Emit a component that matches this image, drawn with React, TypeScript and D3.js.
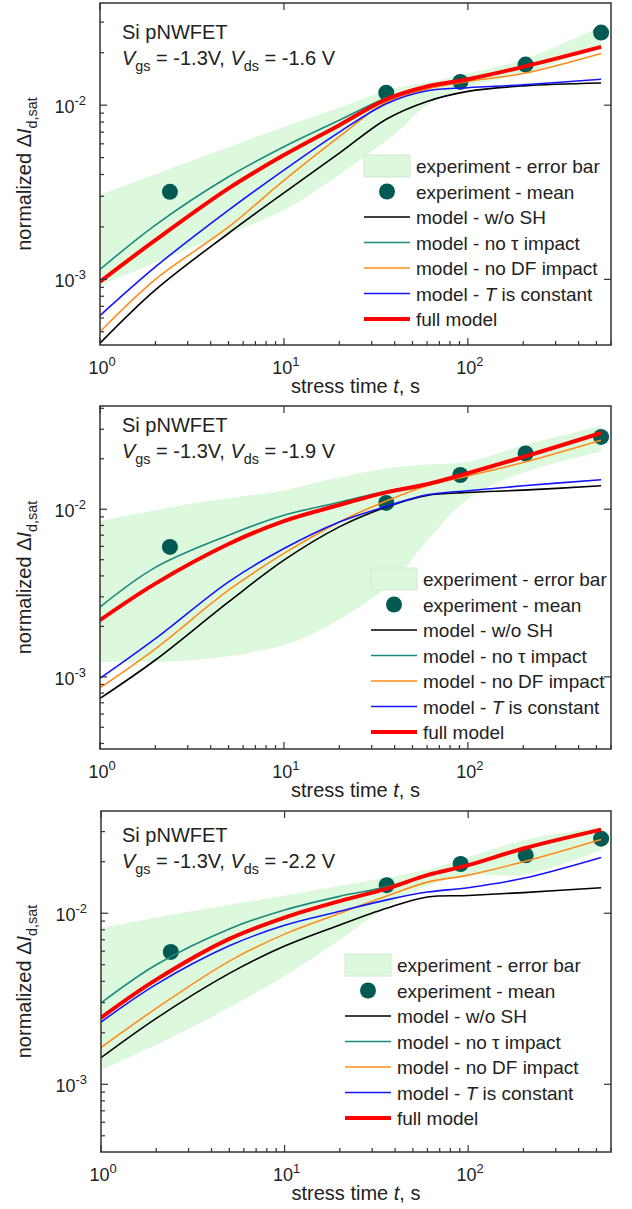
import React, { useEffect, useRef } from 'react';
import * as d3 from 'd3';

// stress times (s)
const modelTimes = [1, 2, 5, 10, 20, 36, 60, 100, 200, 530];
const bandTimes = [1, 3, 10, 20, 40, 60, 100, 200, 530];
const expTimes = [2.4, 36, 91, 206, 530];

// Vds = -1.6 V
const p1Mean = [3.18e-3, 0.0118, 0.0136, 0.0171, 0.0261];
const p1BandLow = [9.2e-4, 1.49e-3, 2.5e-3, 4.0e-3, 6.8e-3, 0.0100, 0.0127, 0.0152, 0.0216];
const p1BandHigh = [3.05e-3, 4.7e-3, 7.5e-3, 9.7e-3, 0.0125, 0.0135, 0.0152, 0.0183, 0.0283];
const p1NoSH = [4.3e-4, 8.7e-4, 1.84e-3, 3.14e-3, 5.3e-3, 8.3e-3, 0.0105, 0.0120, 0.0129, 0.0134];
const p1NoTau = [1.14e-3, 2.05e-3, 3.88e-3, 5.77e-3, 8.2e-3, 0.0110, 0.0129, 0.0142, 0.0167, 0.0217];
const p1NoDF = [5.0e-4, 1.0e-3, 2.0e-3, 3.7e-3, 6.6e-3, 0.0104, 0.0124, 0.0137, 0.0152, 0.0198];
const p1ConstT = [6.2e-4, 1.18e-3, 2.5e-3, 4.24e-3, 7.0e-3, 0.0102, 0.0121, 0.0126, 0.0131, 0.0141];
const p1Full = [9.7e-4, 1.68e-3, 3.33e-3, 5.17e-3, 7.68e-3, 0.0108, 0.0128, 0.0141, 0.0166, 0.0216];

// Vds = -1.9 V
const p2Mean = [5.96e-3, 0.0109, 0.0160, 0.0215, 0.0270];
const p2BandLow = [1.23e-3, 1.25e-3, 1.55e-3, 2.2e-3, 3.8e-3, 6.5e-3, 0.0115, 0.0165, 0.0220];
const p2BandHigh = [8.5e-3, 0.0107, 0.0130, 0.0155, 0.0178, 0.0185, 0.0192, 0.0240, 0.0315];
const p2NoSH = [7.43e-4, 1.26e-3, 2.8e-3, 4.97e-3, 7.85e-3, 0.0103, 0.0121, 0.0126, 0.0130, 0.0138];
const p2NoTau = [2.61e-3, 4.5e-3, 7.0e-3, 9.2e-3, 0.0110, 0.0128, 0.0142, 0.0165, 0.0206, 0.0286];
const p2NoDF = [8.6e-4, 1.47e-3, 3.29e-3, 5.45e-3, 8.4e-3, 0.0112, 0.0138, 0.0158, 0.0190, 0.0258];
const p2ConstT = [9.8e-4, 1.69e-3, 3.69e-3, 5.83e-3, 8.4e-3, 0.0104, 0.0122, 0.0129, 0.0138, 0.0150];
const p2Full = [2.18e-3, 3.6e-3, 6.2e-3, 8.5e-3, 0.0106, 0.0126, 0.0141, 0.0164, 0.0205, 0.0285];

// Vds = -2.2 V
const p3Mean = [5.94e-3, 0.0146, 0.0194, 0.0218, 0.0273];
const p3BandLow = [1.21e-3, 2.1e-3, 4.3e-3, 7.0e-3, 0.0118, 0.0145, 0.0167, 0.0168, 0.0233];
const p3BandHigh = [8.2e-3, 0.0102, 0.0127, 0.0145, 0.0165, 0.0180, 0.0213, 0.0267, 0.0320];
const p3NoSH = [1.43e-3, 2.43e-3, 4.45e-3, 6.43e-3, 8.55e-3, 0.0107, 0.01245, 0.0127, 0.0132, 0.0141];
const p3NoTau = [2.99e-3, 5.0e-3, 8.1e-3, 0.01045, 0.01256, 0.01426, 0.0168, 0.0192, 0.0240, 0.0309];
const p3NoDF = [1.64e-3, 2.78e-3, 5.25e-3, 7.55e-3, 0.0100, 0.0126, 0.0152, 0.0167, 0.0200, 0.0270];
const p3ConstT = [2.31e-3, 3.84e-3, 6.45e-3, 8.5e-3, 0.01026, 0.01197, 0.0133, 0.0141, 0.0160, 0.0212];
const p3Full = [2.45e-3, 4.09e-3, 7.08e-3, 9.44e-3, 0.01178, 0.01393, 0.0167, 0.0191, 0.0239, 0.0308];

const xMajor = [1, 10, 100];
const xTickLabels = ['0', '1', '2'];
const yMajor = [1e-3, 1e-2];
const yTickLabels = ['-3', '-2'];
const vdsLabels = ['-1.6', '-1.9', '-2.2'];

const FONT = '"Liberation Sans", Arial, sans-serif';
const BAND = '#ddf9dd';
const MEAN = '#035a52';

const models = [
  { name: 'noSH', label: [{ t: 'model - w/o SH' }], color: '#000000', width: 1.6 },
  { name: 'noTau', label: [{ t: 'model - no τ impact' }], color: '#1b8a7c', width: 1.6 },
  { name: 'noDF', label: [{ t: 'model - no DF impact' }], color: '#ff8c1a', width: 1.6 },
  { name: 'constT', label: [{ t: 'model - ' }, { t: 'T', italic: true }, { t: ' is constant' }], color: '#1414ff', width: 1.6 },
  { name: 'full', label: [{ t: 'full model' }], color: '#ff0000', width: 4 },
];

const panelData = [
  { mean: p1Mean, low: p1BandLow, high: p1BandHigh, noSH: p1NoSH, noTau: p1NoTau, noDF: p1NoDF, constT: p1ConstT, full: p1Full },
  { mean: p2Mean, low: p2BandLow, high: p2BandHigh, noSH: p2NoSH, noTau: p2NoTau, noDF: p2NoDF, constT: p2ConstT, full: p2Full },
  { mean: p3Mean, low: p3BandLow, high: p3BandHigh, noSH: p3NoSH, noTau: p3NoTau, noDF: p3NoDF, constT: p3ConstT, full: p3Full },
];

// layout of each panel (pixels)
const layout = [
  { left: 100, right: 611, top: 3, bottom: 345, yDomain: [4.2e-4, 3.86e-2], titleY: 39, legX: 364, legY: 166 },
  { left: 100, right: 611, top: 406, bottom: 749, yDomain: [3.71e-4, 4.13e-2], titleY: 432, legX: 371, legY: 579 },
  { left: 101, right: 611, top: 811, bottom: 1152, yDomain: [4.02e-4, 3.96e-2], titleY: 842, legX: 345, legY: 965 },
];

function rich(sel, parts, size) {
  let shift = 0;
  parts.forEach(p => {
    const want = p.sub ? size * 0.32 : p.sup ? -size * 0.45 : 0;
    const ts = sel.append('tspan').text(p.t);
    if (want - shift !== 0) ts.attr('dy', want - shift);
    shift = want;
    if (p.sub || p.sup) ts.attr('font-size', size * 0.72);
    if (p.italic) ts.attr('font-style', 'italic');
  });
}

const App = () => {
  const svgRef = useRef(null);

  useEffect(() => {
    const svg = d3.select(svgRef.current);
    svg.selectAll('*').remove();
    svg.style('font-family', FONT);

    layout.forEach((L, pi) => {
      const d = panelData[pi];
      const g = svg.append('g');

      const x = d3.scaleLog().domain([1, 600]).range([L.left, L.right]);
      const y = d3.scaleLog().domain(L.yDomain).range([L.bottom, L.top]);

      const clipId = `clip${pi}`;
      g.append('clipPath').attr('id', clipId)
        .append('rect')
        .attr('x', L.left).attr('y', L.top)
        .attr('width', L.right - L.left).attr('height', L.bottom - L.top);

      const plot = g.append('g').attr('clip-path', `url(#${clipId})`);

      // error band
      const area = d3.area()
        .x((_, i) => x(bandTimes[i]))
        .y0((_, i) => y(d.low[i]))
        .y1((_, i) => y(d.high[i]))
        .curve(d3.curveCatmullRom.alpha(0.5));
      plot.append('path').datum(bandTimes).attr('d', area).attr('fill', BAND);

      // experiment means
      plot.selectAll('circle.mean').data(expTimes).enter().append('circle')
        .attr('cx', t => x(t))
        .attr('cy', (_, i) => y(d.mean[i]))
        .attr('r', 8)
        .attr('fill', MEAN);

      // model curves
      models.forEach(m => {
        const line = d3.line()
          .x((_, i) => x(modelTimes[i]))
          .y(v => y(v))
          .curve(d3.curveCatmullRom.alpha(0.5));
        plot.append('path').datum(d[m.name])
          .attr('d', line)
          .attr('fill', 'none')
          .attr('stroke', m.color)
          .attr('stroke-width', m.width)
          .attr('stroke-linejoin', 'round');
      });

      // ticks
      const axisColor = '#333';
      const minorX = [];
      [1, 10, 100].forEach(dec => { for (let k = 2; k <= 9; k++) if (dec * k <= 600) minorX.push(dec * k); });
      const minorY = [];
      [1e-4, 1e-3, 1e-2].forEach(dec => { for (let k = 2; k <= 9; k++) { const v = dec * k; if (v >= L.yDomain[0] && v <= L.yDomain[1]) minorY.push(v); } });

      const ticks = g.append('g').attr('stroke', axisColor).attr('stroke-width', 1.2);
      xMajor.forEach(t => {
        ticks.append('line').attr('x1', x(t)).attr('x2', x(t)).attr('y1', L.bottom).attr('y2', L.bottom - 7);
        ticks.append('line').attr('x1', x(t)).attr('x2', x(t)).attr('y1', L.top).attr('y2', L.top + 7);
      });
      minorX.forEach(t => {
        ticks.append('line').attr('x1', x(t)).attr('x2', x(t)).attr('y1', L.bottom).attr('y2', L.bottom - 4);
      });
      yMajor.forEach(v => {
        ticks.append('line').attr('x1', L.left).attr('x2', L.left + 7).attr('y1', y(v)).attr('y2', y(v));
        ticks.append('line').attr('x1', L.right).attr('x2', L.right - 7).attr('y1', y(v)).attr('y2', y(v));
      });
      minorY.forEach(v => {
        ticks.append('line').attr('x1', L.left).attr('x2', L.left + 4).attr('y1', y(v)).attr('y2', y(v));
      });

      g.append('rect')
        .attr('x', L.left).attr('y', L.top)
        .attr('width', L.right - L.left).attr('height', L.bottom - L.top)
        .attr('fill', 'none').attr('stroke', axisColor).attr('stroke-width', 1.5);

      // tick labels
      xMajor.forEach((t, i) => {
        const tx = g.append('text').attr('x', x(t) + 2).attr('y', L.bottom + 29)
          .attr('text-anchor', 'middle').attr('font-size', 18).attr('fill', '#222');
        rich(tx, [{ t: '10' }, { t: xTickLabels[i], sup: true }], 18);
      });
      yMajor.forEach((v, i) => {
        const ty = g.append('text').attr('x', L.left - 14).attr('y', y(v) + 8)
          .attr('text-anchor', 'end').attr('font-size', 18).attr('fill', '#222');
        rich(ty, [{ t: '10' }, { t: yTickLabels[i], sup: true }], 18);
      });

      // axis titles
      const xt = g.append('text').attr('x', (L.left + L.right) / 2).attr('y', L.bottom + 48)
        .attr('text-anchor', 'middle').attr('font-size', 20).attr('fill', '#222');
      rich(xt, [{ t: 'stress time ' }, { t: 't', italic: true }, { t: ', s' }], 20);

      const yt = g.append('text')
        .attr('transform', `translate(31,${(L.top + L.bottom) / 2}) rotate(-90)`)
        .attr('text-anchor', 'middle').attr('font-size', 20).attr('fill', '#222');
      rich(yt, [{ t: 'normalized Δ' }, { t: 'I', italic: true }, { t: 'd,sat', sub: true }], 20);

      // panel annotation
      g.append('text').attr('x', 122).attr('y', L.titleY)
        .attr('font-size', 20).attr('fill', '#222').text('Si pNWFET');
      const cond = g.append('text').attr('x', 122).attr('y', L.titleY + 26)
        .attr('font-size', 20).attr('fill', '#222');
      rich(cond, [
        { t: 'V', italic: true }, { t: 'gs', sub: true }, { t: ' = -1.3V, ' },
        { t: 'V', italic: true }, { t: 'ds', sub: true }, { t: ` = ${vdsLabels[pi]} V` },
      ], 20);

      // legend
      const rowH = 25.5;
      const sw = 46;
      const leg = g.append('g');
      const legText = (row, parts) => {
        const t = leg.append('text').attr('x', L.legX + sw + 6).attr('y', L.legY + row * rowH + 7)
          .attr('font-size', 19).attr('fill', '#222');
        rich(t, parts, 19);
      };
      leg.append('rect').attr('x', L.legX).attr('y', L.legY - 11).attr('width', sw).attr('height', 22)
        .attr('fill', BAND).attr('stroke', '#cfe9cf').attr('stroke-width', 1);
      legText(0, [{ t: 'experiment - error bar' }]);
      leg.append('circle').attr('cx', L.legX + sw / 2).attr('cy', L.legY + rowH).attr('r', 8).attr('fill', MEAN);
      legText(1, [{ t: 'experiment - mean' }]);
      models.forEach((m, k) => {
        const ry = L.legY + (k + 2) * rowH;
        leg.append('line').attr('x1', L.legX).attr('x2', L.legX + sw).attr('y1', ry).attr('y2', ry)
          .attr('stroke', m.color).attr('stroke-width', m.width);
        legText(k + 2, m.label);
      });
    });
  }, []);

  return (
    <div style={{ position: 'absolute', left: 0, top: 0 }}>
      <svg ref={svgRef} width={632} height={1209} style={{ display: 'block', background: '#fff' }}></svg>
    </div>
  );
};

export default App;
